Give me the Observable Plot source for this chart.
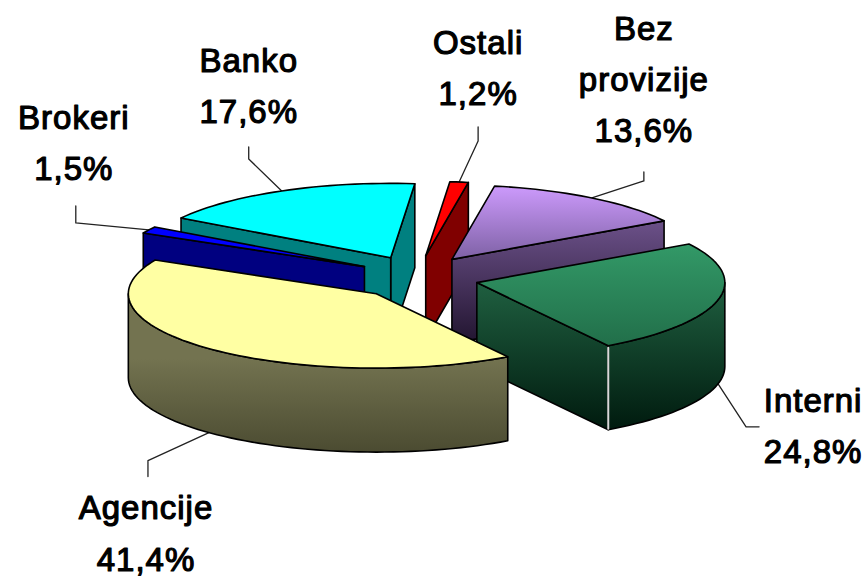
<!DOCTYPE html>
<html>
<head>
<meta charset="utf-8">
<style>html,body{margin:0;padding:0;background:#fff}svg{display:block}</style>
<script src="https://cdn.jsdelivr.net/npm/d3@7"></script>
<script src="https://cdn.jsdelivr.net/npm/@observablehq/plot@0.6"></script>
</head>
<body>
<div id="chart"></div>
<script>
// Data, in pie order (clockwise on the picture going backwards from the front-right cut)
const categories = ["Interni", "Bez provizije", "Ostali", "Banko", "Brokeri", "Agencije"];
const shares = [24.8, 13.6, 1.2, 17.6, 1.5, 41.4];
const labelNames = ["Interni", "Bez\nprovizije", "Ostali", "Banko", "Brokeri", "Agencije"];

// Styling per category
const topPaint = ["url(#gTopGreen)", "url(#gTopPurple)", "#ff0000", "#00ffff", "#0000ff", "#ffffa3"];
const wallPaint = ["url(#gWallGreen)", "url(#gWallPurple)", "#800000", "#008080", "#000080", "url(#gWallYellow)"];
const drawOrder = ["Banko", "Brokeri", "Ostali", "Bez provizije", "Interni", "Agencije"];

// Callout layout, offsets from the point where each slice's mid-angle meets its rim
const callouts = {
  "Interni":       {label: [95, 37],    elbow: [28, 43],  tail: [41, 43]},
  "Bez provizije": {label: [52, -123],  elbow: [52, -17], tail: [52, -26]},
  "Ostali":        {label: [19, -119],  elbow: [19, -41], tail: [19, -55]},
  "Banko":         {label: [-33, -110], elbow: [-33, -32], tail: [-33, -44]},
  "Brokeri":       {label: [-75, -92],  elbow: [-73, -7], tail: [-73, -24]},
  "Agencije":      {label: [-63, 96],   elbow: [-61, 28], tail: [-61, 44]}
};

// Projection of the tilted, exploded pie
const W = 866, H = 577;
const cx = 417, cy = 277, R = 248, tilt = 0.3, explode = 61, explodeTilt = 0.36, depth = 84, startAngle = 58;
const rad = Math.PI / 180;
const total = d3.sum(shares);

let cursor = startAngle;
const slices = categories.map((name, i) => {
  const hi = cursor;
  const lo = cursor - shares[i] / total * 360;
  cursor = lo;
  const mid = (hi + lo) / 2;
  const ax = cx + explode * Math.cos(mid * rad);
  const ay = cy + explode * explodeTilt * Math.sin(mid * rad);
  const rim = (t, z = 0) => ({x: ax + R * Math.cos(t * rad), y: ay + R * tilt * Math.sin(t * rad) + z});
  return {name, i, hi, lo, mid, apex: {x: ax, y: ay}, rim};
});

function arcPts(s, from, to, z = 0) {
  const n = Math.max(2, Math.ceil(Math.abs(to - from) / 2));
  return d3.range(n + 1).map(k => s.rim(from + (to - from) * k / n, z));
}

// Back-facing parts are skipped: each slice gets only the faces the viewer can see
function facesOf(s) {
  const out = [];
  const radial = t => [s.apex, s.rim(t), s.rim(t, depth), {x: s.apex.x, y: s.apex.y + depth}];
  if (Math.cos(s.hi * rad) > 0) out.push({pts: radial(s.hi), fill: wallPaint[s.i]});
  if (Math.cos(s.lo * rad) < 0) out.push({pts: radial(s.lo), fill: wallPaint[s.i]});
  // front rim: the part of the slice that lies between 0 and 180 degrees
  for (const turn of [0, -360]) {
    const a = Math.max(s.lo, turn), b = Math.min(s.hi, turn + 180);
    if (b > a) out.push({pts: [...arcPts(s, a, b), ...arcPts(s, b, a, depth)], fill: wallPaint[s.i], rim: true});
  }
  out.push({pts: [s.apex, ...arcPts(s, s.lo, s.hi)], fill: topPaint[s.i]});
  return out;
}

const closed = pts => [...pts, pts[0]];
const ordered = drawOrder.map(n => slices.find(s => s.name === n));
const faceMarks = ordered.flatMap(s => {
  const marks = facesOf(s).map(f =>
    Plot.line(closed(f.pts), {x: "x", y: "y", fill: f.fill, stroke: "#000", strokeWidth: 1.6, strokeLinejoin: "round"}));
  // pale highlight on the corner between a cut face and the rim wall
  if (Math.cos(s.hi * rad) > 0 && Math.sin(s.hi * rad) > 0 && s.hi < 90 && s.lo < 0 && s.lo > -90) {
    marks.push(Plot.line([s.rim(s.hi, 2), s.rim(s.hi, depth - 1)], {x: "x", y: "y", stroke: "#d8d8d8", strokeWidth: 2}));
  }
  return marks;
});

const anchors = slices.map(s => {
  const t = s.mid;
  const front = Math.sin(t * rad) > 0;
  return {s, p: s.rim(t, front ? depth : 0)};
});
const off = (p, o) => ({x: p.x + o[0], y: p.y + o[1]});
const leaderMarks = anchors.map(({s, p}) => {
  const c = callouts[s.name];
  return Plot.line([p, off(p, c.elbow), off(p, c.tail)], {x: "x", y: "y", stroke: "#222", strokeWidth: 1.3});
});
const labels = anchors.map(({s, p}) => {
  const at = off(p, callouts[s.name].label);
  return {x: at.x, y: at.y, text: `${labelNames[s.i]}\n${shares[s.i].toFixed(1).replace(".", ",")}%`};
});

const gradients = [
  ["gTopGreen", "#339a68", "#216e49", 241, 347],
  ["gTopPurple", "#cf9cff", "#7f62a6", 183, 258],
  ["gWallGreen", "#1f5f40", "#001a0e", 283, 430],
  ["gWallPurple", "#6b5088", "#221530", 222, 342],
  ["gWallYellow", "#737350", "#4b4b31", 358, 452]
];
const defsMark = () => {
  const defs = d3.create("svg:defs");
  for (const [id, c0, c1, y0, y1] of gradients) {
    const g = defs.append("linearGradient").attr("id", id).attr("gradientUnits", "userSpaceOnUse")
      .attr("x1", 0).attr("x2", 0).attr("y1", y0).attr("y2", y1);
    g.append("stop").attr("offset", 0).attr("stop-color", c0);
    g.append("stop").attr("offset", 1).attr("stop-color", c1);
  }
  return defs.node();
};

const chart = Plot.plot({
  width: W, height: H, margin: 0,
  x: {domain: [0, W], range: [0, W], axis: null},
  y: {domain: [0, H], range: [0, H], axis: null},
  style: {background: "#fff", letterSpacing: "1px"},
  marks: [
    defsMark,
    ...leaderMarks,
    ...faceMarks,
    Plot.text(labels, {
      x: "x", y: "y", text: "text", fontSize: 33, lineHeight: 1.55, lineAnchor: "middle", textAnchor: "middle",
      fontFamily: "Liberation Sans", fill: "#000", stroke: "#000", strokeWidth: 1.2
    })
  ]
});
document.getElementById("chart").append(chart);
</script>
</body>
</html>
